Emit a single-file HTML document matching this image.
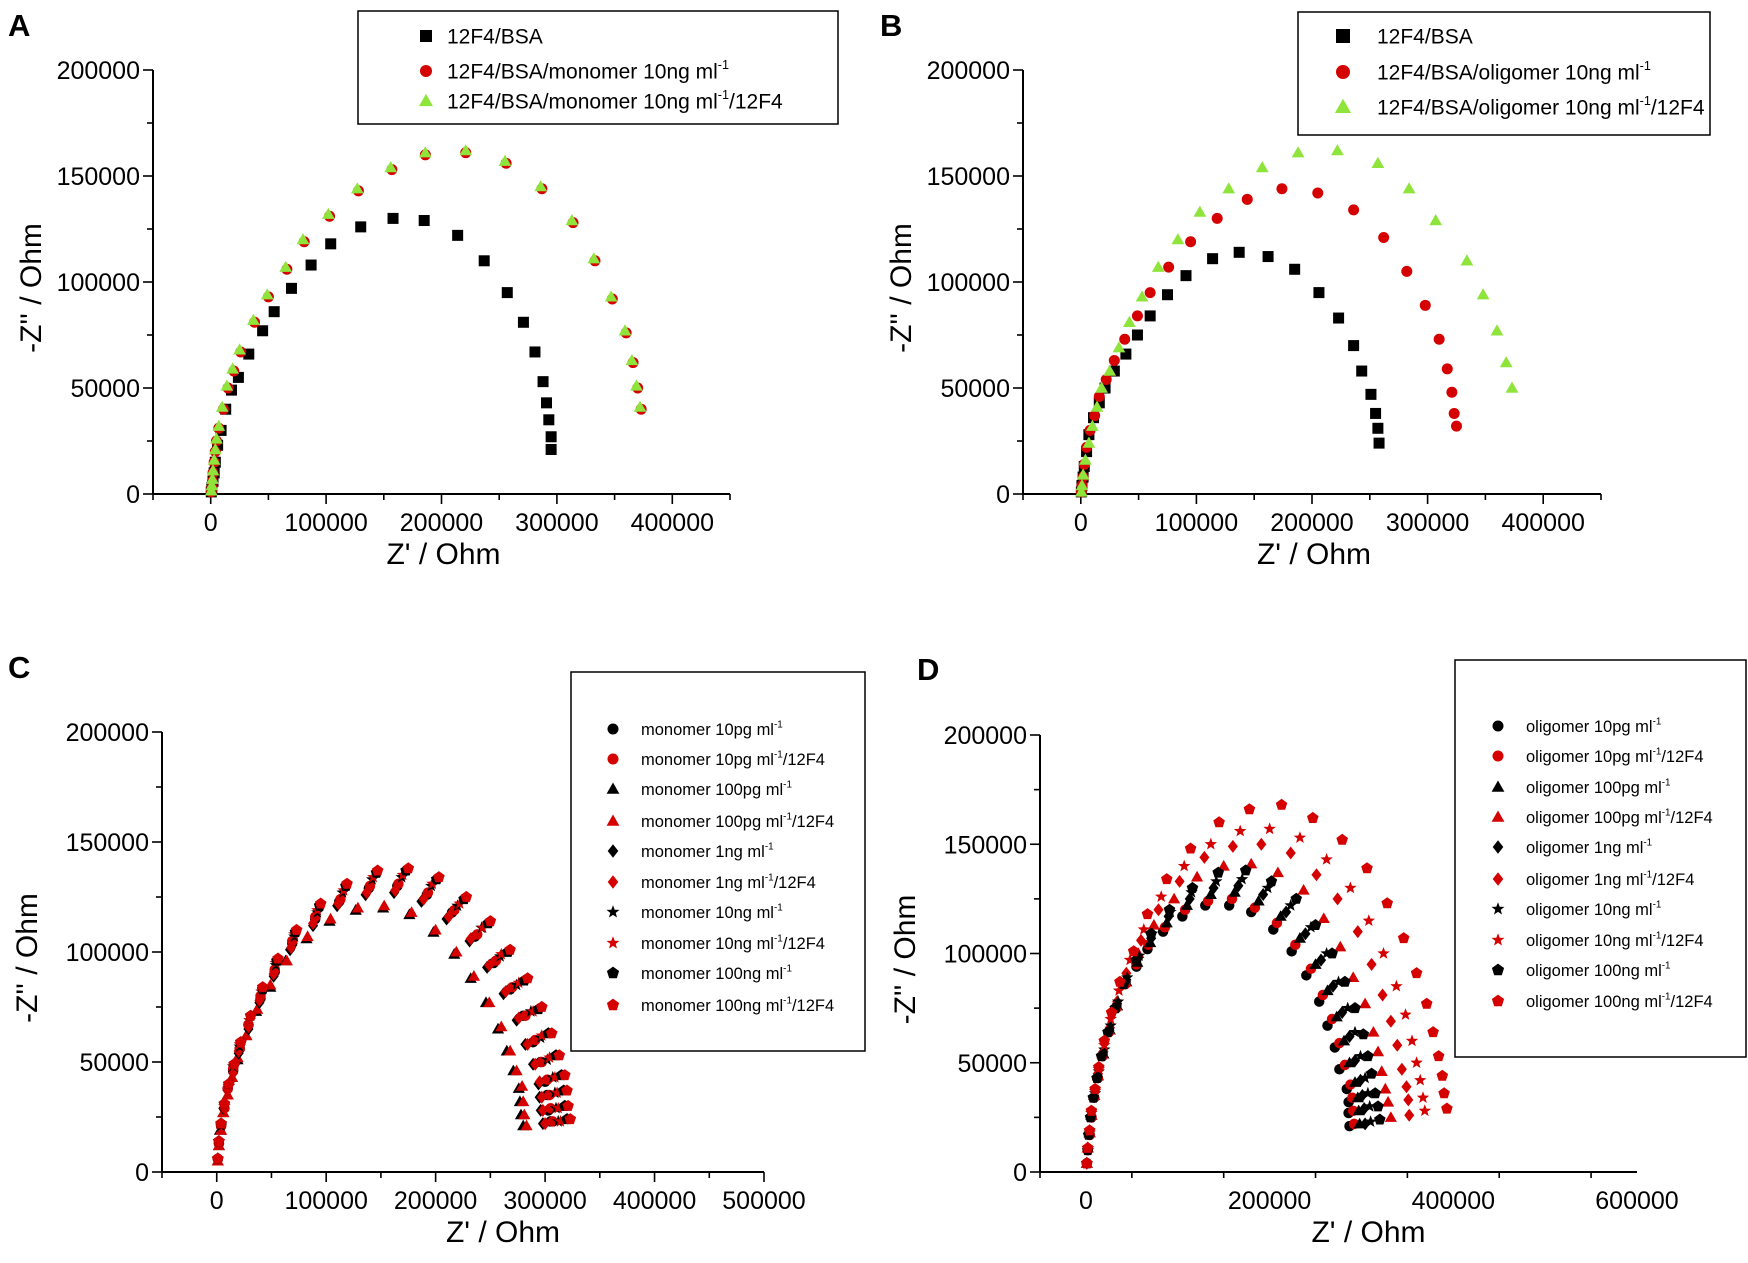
<!DOCTYPE html>
<html><head><meta charset="utf-8">
<style>
html,body{margin:0;padding:0;background:#fff;}
svg{display:block;font-family:"Liberation Sans",Arial,sans-serif;}
</style></head>
<body>
<svg id="fig" width="1748" height="1263" viewBox="0 0 1748 1263" xmlns="http://www.w3.org/2000/svg">
<rect width="1748" height="1263" fill="#fff"/>
<g id="layer"></g>
</svg>
<script>
// ===== Data (values in kOhm) =====
const xTicksAB = [0,100,200,300,400];
const xTicksC = [0,100,200,300,400,500];
const xTicksD = [0,200,400,600];
const yTicks = [0,50,100,150,200];

// Panel A
const aBSA = [[295,21],[295,27],[293,35],[291,43],[288,53],[281,67],[271,81],[257,95],[237,110],[214,122],[185,129],[158,130],[130,126],[104,118],[87,108],[70,97],[55,86],[45,77],[33,66],[24,55],[18,49],[13,40],[9,30],[6,23],[4,15],[3,10],[2,6],[1,3],[0.5,1]];
const aMono = [[373,40],[370,50],[366,62],[360,76],[348,92],[333,110],[314,128],[287,144],[256,156],[221,161],[186,160],[157,153],[128,143],[103,131],[81,119],[66,106],[50,93],[38,81],[26,67],[20,58],[15,50],[11,40],[7,31],[5,25],[4,20],[3,15],[2,10],[1.5,6],[1,3],[0.5,1]];
const aMono12F4 = [[372,41],[369,51],[365,63],[359,77],[347,93],[332,111],[313,129],[286,145],[255,157],[221,162],[186,161],[156,154],[127,144],[102,132],[80,120],[65,107],[49,94],[37,82],[25,68],[19,59],[14,51],[10,41],[7,32],[5,26],[4,21],[3,16],[2,11],[1.5,7],[1,4],[0.5,1.5]];

// Panel B
const bBSA = [[258,24],[257,31],[255,38],[251,47],[243,58],[236,70],[223,83],[206,95],[185,106],[162,112],[137,114],[114,111],[91,103],[75,94],[60,84],[49,75],[39,66],[29,58],[21,50],[16,43],[11,36],[7,28],[5,20],[3,13],[2,8],[1,4],[0.5,1]];
const bOligo = [[325,32],[323,38],[321,48],[317,59],[310,73],[298,89],[282,105],[262,121],[236,134],[205,142],[174,144],[144,139],[118,130],[95,119],[76,107],[60,95],[49,84],[38,73],[29,63],[22,54],[16,46],[12,37],[8,30],[5,22],[3,14],[2,8],[1,4],[0.5,1]];
const bOligo12F4 = [[373,50],[368,62],[360,77],[348,94],[334,110],[307,129],[284,144],[257,156],[222,162],[188,161],[157,154],[128,144],[103,133],[84,120],[67,107],[53,93],[42,81],[33,69],[25,58],[18,50],[14,41],[10,32],[7,24],[4,16],[2,9],[1,4],[0.5,1]];

// Panel C (monomer)
const cCircleK = [[305,23],[303,28],[302,35],[300,41],[296,50],[289,59],[280,71],[268,83],[253,95],[236,107],[215,118],[192,126],[165,130],[139,129],[112,123],[90,115],[69,104],[53,91],[40,79],[29,67],[21,56],[15,46],[10,38],[7,29],[4,21],[2,13],[1,6]];
const cCircleR = [[307,23],[305,29],[304,35],[302,42],[297,50],[291,60],[282,71],[270,84],[255,96],[238,108],[217,119],[193,127],[166,131],[140,130],[113,124],[90,116],[69,105],[53,92],[40,80],[29,67],[21,56],[15,47],[10,38],[7,29],[4,21],[2,13],[1,6]];
const cTriK = [[280,21],[278,26],[277,32],[276,38],[271,46],[265,55],[257,65],[246,77],[232,88],[217,99],[198,109],[176,117],[152,120],[127,119],[103,114],[82,106],[63,96],[49,84],[36,73],[27,62],[19,51],[14,43],[10,35],[6,27],[3,19],[2,12],[1,5]];
const cTriR = [[283,21],[281,26],[280,32],[279,39],[274,46],[268,55],[260,66],[249,77],[235,89],[219,100],[200,110],[178,118],[153,121],[129,120],[104,115],[83,107],[64,96],[49,85],[37,74],[27,62],[19,52],[14,43],[10,35],[6,27],[4,19],[2,12],[1,5]];
const cDiaK = [[298,22],[296,28],[295,34],[294,40],[289,49],[282,58],[274,69],[262,81],[247,93],[231,105],[210,115],[187,123],[162,127],[136,126],[110,121],[88,112],[67,101],[52,89],[39,77],[29,65],[20,54],[15,45],[10,37],[6,29],[4,20],[2,13],[1,6]];
const cDiaR = [[300,22],[298,28],[297,34],[295,41],[291,49],[284,58],[276,70],[264,82],[249,94],[232,106],[212,116],[189,124],[163,128],[137,127],[111,122],[88,113],[68,102],[52,90],[39,78],[29,66],[20,55],[15,45],[10,37],[7,29],[4,20],[2,13],[1,6]];
const cStarK = [[312,23],[310,29],[309,36],[307,43],[302,51],[296,61],[287,73],[274,85],[259,98],[242,111],[220,121],[196,130],[169,134],[142,133],[115,127],[92,118],[71,107],[54,94],[41,82],[30,69],[21,57],[15,48],[11,39],[7,30],[4,21],[2,14],[1,6]];
const cStarR = [[314,23],[312,29],[311,36],[309,43],[304,52],[297,62],[289,73],[276,86],[260,99],[243,111],[222,122],[197,131],[170,135],[143,134],[116,128],[92,119],[71,108],[54,95],[41,82],[30,69],[21,58],[16,48],[11,39],[7,30],[4,22],[2,14],[1,6]];
const cPentK = [[320,24],[318,30],[317,37],[315,44],[310,53],[303,63],[294,74],[281,87],[266,100],[248,113],[226,124],[201,133],[173,137],[146,136],[118,130],[94,121],[72,109],[55,96],[42,83],[31,71],[22,59],[16,49],[11,40],[7,31],[4,22],[2,14],[1,6]];
const cPentR = [[323,24],[321,30],[320,37],[318,44],[313,53],[306,63],[297,75],[284,88],[268,101],[250,114],[228,125],[203,134],[175,138],[147,137],[119,131],[95,122],[73,110],[56,97],[42,84],[31,71],[22,59],[16,49],[11,40],[7,31],[4,22],[2,14],[1,6]];

// Panel D (oligomer)
const dCircleK = [[287,21],[286,27],[286,32],[284,38],[276,47],[271,57],[263,67],[254,78],[240,90],[224,101],[204,111],[180,119],[156,122],[130,122],[105,117],[84,110],[67,102],[55,94],[43,86],[33,75],[25,64],[18,53],[13,43],[9,34],[6,25],[4,17],[2,10],[1,4]];
const dCircleR = [[292,22],[291,28],[290,34],[288,40],[282,49],[276,59],[268,70],[258,81],[245,93],[228,104],[208,114],[184,121],[159,125],[133,124],[108,120],[86,112],[68,104],[55,95],[43,86],[33,75],[25,64],[18,53],[13,43],[9,34],[6,25],[4,17],[2,10],[1,4]];
const dTriK = [[298,22],[297,28],[296,34],[293,41],[287,50],[281,60],[273,71],[263,83],[250,95],[233,107],[212,117],[188,124],[162,128],[136,127],[110,122],[88,114],[70,105],[56,96],[44,87],[34,76],[26,65],[19,54],[13,44],[9,35],[6,26],[4,18],[2,11],[1,4]];
const dTriR = [[332,25],[329,32],[326,38],[322,46],[318,55],[313,64],[304,77],[291,89],[277,103],[259,116],[237,129],[209,137],[180,141],[150,140],[121,135],[96,125],[74,113],[57,100],[43,87],[33,76],[25,65],[18,54],[13,44],[9,35],[6,26],[4,18],[2,11],[1,4]];
const dDiaK = [[304,22],[303,29],[301,35],[299,42],[293,51],[287,62],[279,73],[269,85],[256,97],[239,109],[218,119],[193,127],[166,131],[139,130],[113,125],[90,117],[71,107],[57,98],[44,88],[34,77],[26,66],[19,55],[13,45],[9,35],[6,26],[4,18],[2,11],[1,4]];
const dDiaR = [[352,26],[351,33],[349,39],[344,47],[339,58],[332,69],[323,81],[311,95],[296,110],[274,125],[251,136],[223,146],[191,150],[160,149],[129,144],[102,133],[79,120],[60,106],[44,91],[34,78],[26,66],[19,55],[13,45],[9,35],[6,26],[4,18],[2,11],[1,4]];
const dStarK = [[310,23],[309,30],[307,36],[304,43],[299,53],[293,64],[285,75],[275,87],[262,100],[245,112],[223,122],[198,130],[170,134],[142,133],[115,128],[92,119],[72,109],[58,99],[45,89],[35,78],[27,67],[20,56],[14,46],[10,36],[6,27],[4,18],[2,11],[1,4]];
const dStarR = [[369,28],[367,34],[364,42],[360,50],[355,60],[348,72],[338,85],[324,100],[308,115],[288,130],[262,143],[233,153],[200,157],[168,156],[136,150],[107,140],[82,126],[63,111],[48,97],[36,83],[27,70],[20,58],[14,47],[10,37],[6,27],[4,19],[2,11],[1,4]];
const dPentK = [[320,24],[318,30],[315,36],[311,45],[307,53],[302,63],[293,75],[282,87],[268,100],[250,113],[229,125],[202,133],[174,138],[144,137],[116,130],[91,120],[71,109],[55,97],[41,86],[32,75],[24,64],[17,53],[12,43],[8,34],[5,25],[3,17],[2,10],[1,4]];
const dPentR = [[393,29],[390,36],[388,44],[384,53],[378,64],[371,77],[360,91],[346,107],[328,123],[306,139],[279,152],[247,162],[213,168],[178,166],[145,160],[114,148],[88,134],[67,118],[52,101],[37,87],[28,73],[20,60],[14,48],[10,38],[6,28],[4,19],[2,11],[1,4]];

const legendA = ["12F4/BSA","12F4/BSA/monomer 10ng ml|","12F4/BSA/monomer 10ng ml|/12F4"];
const legendB = ["12F4/BSA","12F4/BSA/oligomer 10ng ml|","12F4/BSA/oligomer 10ng ml|/12F4"];
const legendCNames = ["monomer 10pg ml","monomer 10pg ml","monomer 100pg ml","monomer 100pg ml","monomer 1ng ml","monomer 1ng ml","monomer 10ng ml","monomer 10ng ml","monomer 100ng ml","monomer 100ng ml"];
const legendDNames = ["oligomer 10pg ml","oligomer 10pg ml","oligomer 100pg ml","oligomer 100pg ml","oligomer 1ng ml","oligomer 1ng ml","oligomer 10ng ml","oligomer 10ng ml","oligomer 100ng ml","oligomer 100ng ml"];

// ===== Rendering =====
const NS = "http://www.w3.org/2000/svg";
const layer = document.getElementById('layer');
const RED = "#d50000", BLK = "#000", GRN = "#8fe43c";

function mk(tag, attrs, parent){
  const e = document.createElementNS(NS, tag);
  for (const k in attrs) e.setAttribute(k, attrs[k]);
  (parent||layer).appendChild(e);
  return e;
}

function marker(shape, cx, cy, s, color, parent){
  let e;
  if (shape==='square') e = mk('rect',{x:cx-s/2,y:cy-s/2,width:s,height:s,fill:color},parent);
  else if (shape==='circle') e = mk('circle',{cx:cx,cy:cy,r:s/2,fill:color},parent);
  else {
    let pts=[];
    if (shape==='triangle'){ const h=s*0.95; pts=[[cx,cy-h*0.62],[cx+s*0.58,cy+h*0.45],[cx-s*0.58,cy+h*0.45]]; }
    else if (shape==='diamond'){ pts=[[cx,cy-s*0.62],[cx+s*0.48,cy],[cx,cy+s*0.62],[cx-s*0.48,cy]]; }
    else if (shape==='pentagon'){ for(let i=0;i<5;i++){const a=-Math.PI/2+i*2*Math.PI/5; pts.push([cx+s*0.58*Math.cos(a),cy+s*0.58*Math.sin(a)]);} }
    else if (shape==='star'){ for(let i=0;i<10;i++){const a=-Math.PI/2+i*Math.PI/5; const r=i%2?s*0.26:s*0.62; pts.push([cx+r*Math.cos(a),cy+r*Math.sin(a)]);} }
    e = mk('polygon',{points:pts.map(p=>p[0].toFixed(1)+','+p[1].toFixed(1)).join(' '),fill:color},parent);
  }
  return e;
}

function text(x,y,str,size,anchor,parent,extra){
  const t = mk('text',Object.assign({x:x,y:y,'font-size':size,'text-anchor':anchor||'start',fill:'#000'},extra||{}),parent);
  t.textContent = str;
  return t;
}

function panel(cfg){
  const g = mk('g',{});
  
  
  const sx = v => cfg.left + (v - cfg.xmin)/(cfg.xmax-cfg.xmin)*(cfg.right-cfg.left);
  const sy = v => cfg.y0 - v/200*(cfg.y0-cfg.y200);
  const ax = mk('g',{},g);
  
  
  mk('line',{x1:cfg.left,y1:cfg.y0,x2:cfg.right,y2:cfg.y0,stroke:'#000','stroke-width':2},ax);
  mk('line',{x1:cfg.left,y1:cfg.y0,x2:cfg.left,y2:cfg.y200,stroke:'#000','stroke-width':2},ax);
  for (let v=0; v<=200; v+=25){
    const major = v%50===0;
    mk('line',{x1:cfg.left-(major?10:6),y1:sy(v),x2:cfg.left,y2:sy(v),stroke:'#000','stroke-width':1.6},ax);
  }
  yTicks.forEach(v=>{
    const t = text(cfg.left-13, sy(v)+9, String(v*1000), 25, 'end', ax);
    
    
  });
  const step = cfg.xstep/2;
  for (let v=cfg.xmin; v<=cfg.xmax+0.01; v+=step){
    const major = Math.round(v)%cfg.xstep===0;
    mk('line',{x1:sx(v),y1:cfg.y0,x2:sx(v),y2:cfg.y0+(major?10:6),stroke:'#000','stroke-width':1.6},ax);
  }
  cfg.xticks.forEach(v=>{
    const t = text(sx(v), cfg.y0+37, String(v*1000), 25, 'middle', ax);
    
    
  });
  const xt = text((cfg.left+cfg.right)/2 - cfg.xtShift, cfg.y0+70, "Z' / Ohm", 30, 'middle', ax);
  
  
  const yc = (cfg.y0+cfg.y200)/2 + 6;
  const yt = text(0,0,"-Z'' / Ohm",30,'middle',ax,{transform:'translate('+(cfg.left-cfg.ytOff)+','+yc+') rotate(-90)'});
  
  
  const lt = text(cfg.letter[1], cfg.letter[2], cfg.letter[0], 31, 'start', g, {'font-weight':'bold'});
  
  
  cfg.series.forEach(s=>{
    const sg = mk('g',{},g);
    
    
    s.data.forEach(p=>{
      const m = marker(s.shape, sx(p[0]), sy(p[1]), cfg.ms, s.color, sg);
      
      
    });
  });
  const L = cfg.legend;
  const lg = mk('g',{},g);
  
  
  mk('rect',{x:L.x,y:L.y,width:L.w,height:L.h,fill:'#fff',stroke:'#000','stroke-width':1.5},lg);
  L.items.forEach((it,i)=>{
    const cy = L.rows[i];
    const m = marker(it.shape, L.mx, cy, L.ms, it.color, lg);
    
    
    const t = mk('text',{x:L.tx,y:cy+L.fs*0.36,'font-size':L.fs,fill:'#000'},lg);
    
    
    const parts = it.label.split('|');
    t.appendChild(document.createTextNode(parts[0]));
    if (parts.length>1){
      const sup = document.createElementNS(NS,'tspan');
      sup.setAttribute('dy', -L.fs*0.45);
      sup.setAttribute('font-size', L.fs*0.6);
      sup.textContent = '-1';
      t.appendChild(sup);
      if (parts[1].length){
        const r = document.createElementNS(NS,'tspan');
        r.setAttribute('dy', L.fs*0.45);
        r.textContent = parts[1];
        t.appendChild(r);
      }
    }
  });
}

const shapes10 = ['circle','circle','triangle','triangle','diamond','diamond','star','star','pentagon','pentagon'];
const colors10 = [BLK,RED,BLK,RED,BLK,RED,BLK,RED,BLK,RED];
function labels10(names){ return names.map((n,i)=> i%2 ? n+'|/12F4' : n+'|'); }

panel({name:'panel-a',letter:['A',8,36],left:153,right:730,xmin:-50,xmax:450,xstep:100,xticks:xTicksAB,y0:494,y200:70,ms:11,xtShift:-2,ytOff:112,
  series:[{id:'series-12f4-bsa',shape:'square',color:BLK,data:aBSA},{id:'series-monomer-10ng',shape:'circle',color:RED,data:aMono},{id:'series-monomer-10ng-12f4',shape:'triangle',color:GRN,data:aMono12F4}],
  legend:{x:358,y:11,w:480,h:113,mx:426,tx:447,ms:12,fs:21,rows:[36,71,101],items:[{shape:'square',color:BLK,label:legendA[0]},{shape:'circle',color:RED,label:legendA[1]},{shape:'triangle',color:GRN,label:legendA[2]}]}});
panel({name:'panel-b',letter:['B',880,36],left:1023,right:1601,xmin:-50,xmax:450,xstep:100,xticks:xTicksAB,y0:494,y200:70,ms:11,xtShift:-2,ytOff:112,
  series:[{id:'series-12f4-bsa',shape:'square',color:BLK,data:bBSA},{id:'series-oligomer-10ng',shape:'circle',color:RED,data:bOligo},{id:'series-oligomer-10ng-12f4',shape:'triangle',color:GRN,data:bOligo12F4}],
  legend:{x:1298,y:12,w:412,h:123,mx:1343,tx:1377,ms:14,fs:21,rows:[36,72,107],items:[{shape:'square',color:BLK,label:legendB[0]},{shape:'circle',color:RED,label:legendB[1]},{shape:'triangle',color:GRN,label:legendB[2]}]}});

const cData = [cCircleK,cCircleR,cTriK,cTriR,cDiaK,cDiaR,cStarK,cStarR,cPentK,cPentR];
const dData = [dCircleK,dCircleR,dTriK,dTriR,dDiaK,dDiaR,dStarK,dStarR,dPentK,dPentR];
const cLab = labels10(legendCNames), dLab = labels10(legendDNames);
panel({name:'panel-c',letter:['C',8,678],left:162,right:764,xmin:-50,xmax:500,xstep:100,xticks:xTicksC,y0:1172,y200:732,ms:10.5,xtShift:-40,ytOff:125,
  series:cData.map((d,i)=>({id:'series-c-'+i,shape:shapes10[i],color:colors10[i],data:d})),
  legend:{x:571,y:672,w:294,h:379,mx:613,tx:641,ms:11,fs:16.5,rows:[729,759,789,821,851,882,912,943,973,1005],items:cData.map((d,i)=>({shape:shapes10[i],color:colors10[i],label:cLab[i]}))}});
panel({name:'panel-d',letter:['D',917,680],left:1040,right:1637,xmin:-50,xmax:600,xstep:200,xticks:xTicksD,y0:1172,y200:735,ms:10.5,xtShift:-30,ytOff:125,
  series:dData.map((d,i)=>({id:'series-d-'+i,shape:shapes10[i],color:colors10[i],data:d})),
  legend:{x:1455,y:660,w:291,h:397,mx:1498,tx:1526,ms:11,fs:16.5,rows:[726,756,787,817,847,879,909,940,970,1001],items:dData.map((d,i)=>({shape:shapes10[i],color:colors10[i],label:dLab[i]}))}});
</script>
</body></html>
